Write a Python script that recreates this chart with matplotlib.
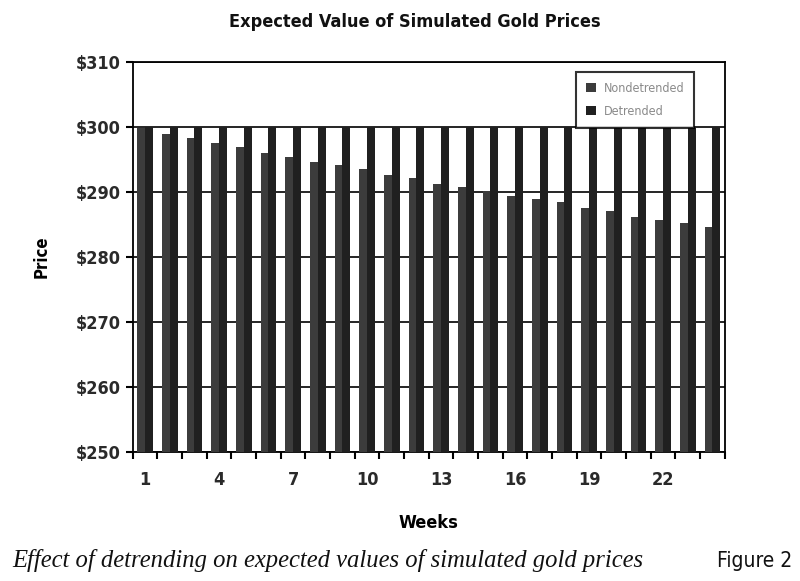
import numpy as np
import matplotlib
matplotlib.use("Agg")
import matplotlib.pyplot as plt

# Data
weeks = np.arange(1, 25)
nondetrended = [299.8, 298.9, 298.3, 297.5, 296.9, 296.0, 295.4, 294.6,
                294.2, 293.6, 292.7, 292.2, 291.3, 290.8, 290.1, 289.4,
                288.9, 288.5, 287.5, 287.1, 286.2, 285.7, 285.2, 284.6]
detrended = [300.0] * 24
tick_weeks = [1, 4, 7, 10, 13, 16, 19, 22]
y_ticks = [250, 260, 270, 280, 290, 300, 310]

cond = dict(family='DejaVu Sans', fontstretch='condensed')

fig = plt.figure(figsize=(8, 5.81), dpi=100)
ax = fig.add_axes([0.166, 0.222, 0.74, 0.671])

w = 0.32
ax.bar(weeks - w / 2, nondetrended, width=w, color='#3c3c3c', label='Nondetrended', zorder=3)
ax.bar(weeks + w / 2, detrended, width=w, color='#202020', label='Detrended', zorder=3)

ax.set_ylim(250, 310)
ax.set_xlim(0.5, 24.5)
ax.set_yticks(y_ticks)
ax.set_yticklabels([f'${v}' for v in y_ticks], fontsize=13, fontweight='bold', color='#2a2a2a', **cond)
ax.yaxis.grid(True, color='black', linewidth=1.2, zorder=1)

# ticks at category boundaries, labels at every third week
ax.set_xticks(np.arange(0.5, 25, 1))
ax.set_xticklabels([])
ax.set_xticks(tick_weeks, minor=True)
ax.set_xticklabels([str(t) for t in tick_weeks], minor=True, fontsize=13, fontweight='bold', color='#2a2a2a', **cond)
ax.tick_params(axis='x', which='major', length=5, width=1.5, direction='out')
ax.tick_params(axis='x', which='minor', length=0, pad=14)
ax.tick_params(axis='y', length=5, width=1.5, direction='out')

for s in ax.spines.values():
    s.set_linewidth(1.3)

ax.set_xlabel('Weeks', fontsize=13, fontweight='bold', labelpad=18, **cond)
ax.set_ylabel('Price', fontsize=12, fontweight='bold', labelpad=18, **cond)

leg = ax.legend(loc='upper right', bbox_to_anchor=(0.955, 0.985), frameon=True,
                fancybox=False, edgecolor='black', handlelength=0.8, handleheight=0.8,
                borderpad=0.8, labelspacing=0.8, borderaxespad=0.3, handletextpad=0.6,
                prop={'family': 'DejaVu Sans', 'stretch': 'condensed', 'size': 9})
leg.get_frame().set_linewidth(1.5)
for t in leg.get_texts():
    t.set_color('#8a8a8a')

fig.text(0.519, 0.962, 'Expected Value of Simulated Gold Prices', ha='center', va='center',
         fontsize=13, fontweight='bold', color='#111111', **cond)
fig.text(0.015, 0.035, 'Effect of detrending on expected values of simulated gold prices',
         ha='left', va='center', family=['Liberation Serif', 'DejaVu Serif'], style='italic',
         fontsize=17.7, color='#111111')
fig.text(0.99, 0.035, 'Figure 2', ha='right', va='center', fontsize=15, color='#111111', **cond)

plt.savefig('out.png', dpi=100)
